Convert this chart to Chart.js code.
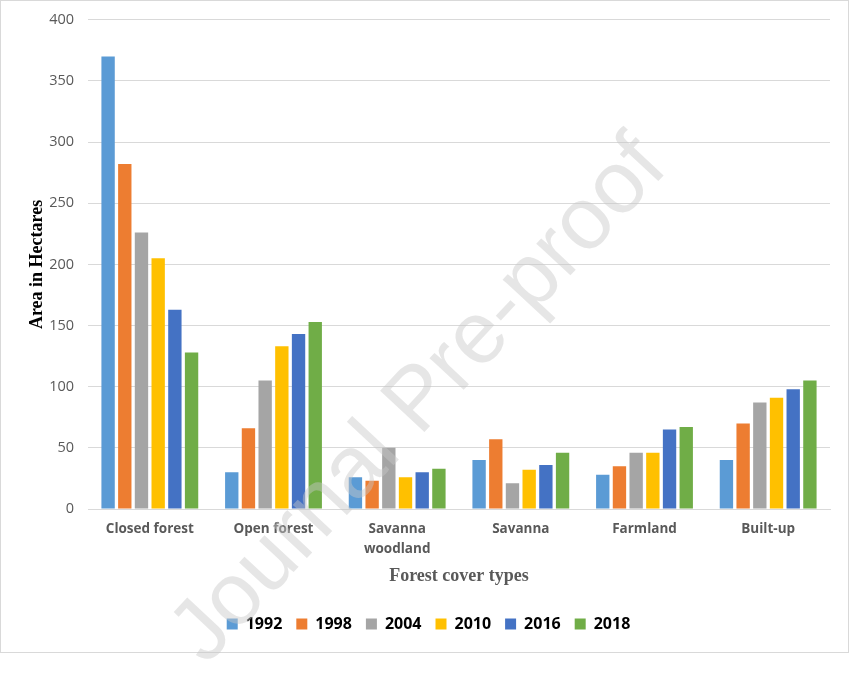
<!DOCTYPE html>
<html>
<head>
<meta charset="utf-8">
<script src="https://cdn.jsdelivr.net/npm/chart.js@4.4.1/dist/chart.umd.min.js"></script>
<style>
  body { margin: 0; background: #fff; }
  #frame { position: absolute; left: 0; top: 0; width: 847px; height: 651px; border: 1px solid #d9d9d9; }
  #wrap { position: absolute; left: 0; top: 0; width: 850px; height: 687px; }
</style>
</head>
<body>
<div id="frame"></div>
<div id="wrap"><canvas id="coverChart"></canvas></div>
<script>
const categories = ['Closed forest', 'Open forest', ['Savanna', 'woodland'], 'Savanna', 'Farmland', 'Built-up'];
const years = ['1992', '1998', '2004', '2010', '2016', '2018'];
const yearColors = ['#5B9BD5', '#ED7D31', '#A5A5A5', '#FFC000', '#4472C4', '#70AD47'];

const area1992 = [370, 30, 26, 40, 28, 40];
const area1998 = [282, 66, 23, 57, 35, 70];
const area2004 = [226, 105, 50, 21, 46, 87];
const area2010 = [205, 133, 26, 32, 46, 91];
const area2016 = [163, 143, 30, 36, 65, 98];
const area2018 = [128, 153, 33, 46, 67, 105];
const yTicks = [0, 50, 100, 150, 200, 250, 300, 350, 400];

const seriesValues = [area1992, area1998, area2004, area2010, area2016, area2018];

const watermark = {
  id: 'watermark',
  afterDatasetsDraw(chart) {
    const ctx = chart.ctx;
    ctx.save();
    ctx.translate(420, 401);
    ctx.rotate(-47 * Math.PI / 180);
    ctx.font = '88px "Liberation Sans", Arial, sans-serif';
    ctx.fillStyle = 'rgba(200, 200, 200, 0.45)';
    ctx.textAlign = 'center';
    ctx.textBaseline = 'middle';
    ctx.fillText('Journal Pre-proof', 0, 0);
    ctx.restore();
  }
};

const ctx = document.getElementById('coverChart').getContext('2d');
new Chart(ctx, {
  type: 'bar',
  data: {
    labels: categories,
    datasets: years.map((y, i) => ({
      label: y,
      data: seriesValues[i],
      backgroundColor: yearColors[i],
      borderWidth: 0,
      categoryPercentage: 0.81,
      barPercentage: 0.8
    }))
  },
  options: {
    responsive: true,
    maintainAspectRatio: false,
    animation: false,
    layout: { padding: { top: 14, right: 20, bottom: 45, left: 27 } },
    scales: {
      y: {
        min: 0,
        max: 400,
        afterBuildTicks: (s) => { s.ticks = yTicks.map(v => ({ value: v })); },
        afterFit: (s) => { s.width = 61; },
        border: { display: false },
        grid: { color: '#d9d9d9', drawTicks: false },
        ticks: {
          padding: 14,
          color: '#595959',
          font: { family: '"Open Sans"', size: 14.5, lineHeight: 0.8 }
        },
        title: {
          display: true,
          text: 'Area in Hectares',
          color: '#000',
          font: { family: '"Liberation Serif"', size: 18, weight: 'bold' },
          padding: { top: 0, bottom: 0 }
        }
      },
      x: {
        afterFit: (s) => { s.height = 93; },
        border: { display: true, color: '#d9d9d9' },
        grid: { display: false },
        ticks: {
          padding: 2,
          color: '#595959',
          font: { family: '"Open Sans"', size: 13.5, weight: 'bold', lineHeight: 1.5 }
        },
        title: {
          display: true,
          text: 'Forest cover types',
          color: '#595959',
          font: { family: '"Liberation Serif"', size: 18, weight: 'bold' },
          padding: { top: 0, bottom: 15 }
        }
      }
    },
    plugins: {
      legend: {
        position: 'bottom',
        labels: {
          boxWidth: 11,
          boxHeight: 11,
          padding: 14,
          color: '#000',
          font: { family: '"Open Sans"', size: 16, weight: 'bold' }
        }
      },
      tooltip: { enabled: false }
    }
  },
  plugins: [watermark]
});
</script>
</body>
</html>
